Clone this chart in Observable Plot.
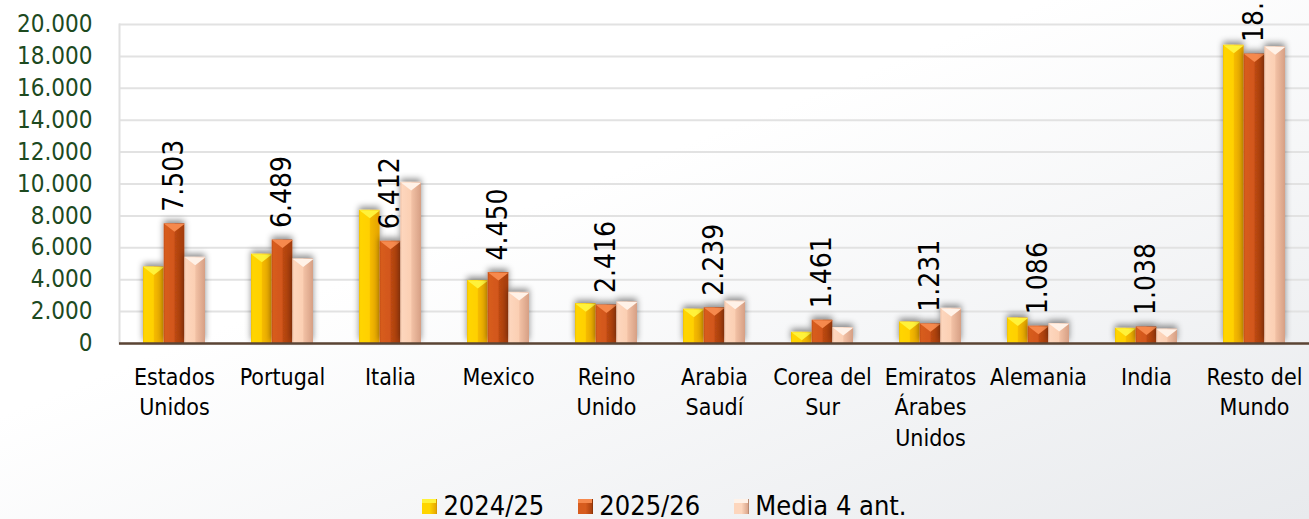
<!DOCTYPE html>
<html>
<head>
<meta charset="utf-8">
<script src="https://cdn.jsdelivr.net/npm/d3@7"></script>
<script src="https://cdn.jsdelivr.net/npm/@observablehq/plot@0.6"></script>
<style>
html, body { margin: 0; padding: 0; }
body {
  width: 1309px; height: 519px; overflow: hidden; position: relative;
  background: linear-gradient(to bottom right, #ffffff 40%, #e8eaed 100%);
  font-family: "DejaVu Sans Condensed", "DejaVu Sans", sans-serif;
}
#chart { position: absolute; left: 0; top: 0; }
#chart svg { background: none; }
#legend {
  position: absolute; left: 0; top: 494px; width: 1309px; height: 24px; box-sizing: border-box;
  padding-left: 20px;
  display: flex; justify-content: center; align-items: center; gap: 34px;
  font-size: 27px; line-height: 24px; color: #000;
}
.item { display: flex; align-items: center; gap: 6px; height: 24px; }
.sw { width: 15px; height: 15px; position: relative; }
</style>
</head>
<body>
<div id="chart"></div>
<div id="legend"></div>
<script>
// ---- data ----
const countries = ["Estados Unidos", "Portugal", "Italia", "Mexico", "Reino Unido", "Arabia Saudí",
  "Corea del Sur", "Emiratos Árabes Unidos", "Alemania", "India", "Resto del Mundo"];
const countryLabels = ["Estados\nUnidos", "Portugal", "Italia", "Mexico", "Reino\nUnido", "Arabia\nSaudí",
  "Corea del\nSur", "Emiratos\nÁrabes\nUnidos", "Alemania", "India", "Resto del\nMundo"];
const series = ["2024/25", "2025/26", "Media 4 ant."];
const values2425 = [4800, 5600, 8350, 3950, 2500, 2150, 700, 1350, 1600, 950, 18700];
const values2526 = [7503, 6489, 6412, 4450, 2416, 2239, 1461, 1231, 1086, 1038, 18150];
const valuesMedia = [5400, 5300, 10100, 3200, 2600, 2650, 1000, 2200, 1250, 900, 18600];
const yTicks = [0, 2000, 4000, 6000, 8000, 10000, 12000, 14000, 16000, 18000, 20000];
const labelledSeries = "2025/26";

// ---- styles ----
const colors = {
  "2024/25":      {stops: [[0, "#f2c000"], [0.08, "#ffd500"], [0.5, "#ffd000"], [0.56, "#f4b900"], [1, "#e3a200"]], top: "#fff23a", edge: "#d99a00"},
  "2025/26":      {stops: [[0, "#c24c15"], [0.08, "#d75c1e"], [0.5, "#d2571b"], [0.56, "#bb4812"], [1, "#a23c0c"]], top: "#f6894d", edge: "#8e3508"},
  "Media 4 ant.": {stops: [[0, "#efbfa2"], [0.08, "#fdd6bd"], [0.5, "#fbcfb3"], [0.56, "#f1c0a4"], [1, "#d69f84"]], top: "#fff2e8", edge: "#b98a72"}
};

const rows = [];
const seriesValues = [values2425, values2526, valuesMedia];
series.forEach((s, si) => countries.forEach((c, ci) => rows.push({country: c, series: s, value: seriesValues[si][ci]})));

const fmt = d3.formatLocale({decimal: ",", thousands: ".", grouping: [3], currency: ["", ""]}).format(",d");
const labelOf = new Map(countries.map((c, i) => [c, countryLabels[i]]));

// ---- layout ----
const W = 1309, H = 470, mL = 119, mR = 0, mT = 24, mB = 127;
const padInner = 0.426;
const step = (W - mL - mR) / countries.length;
const bw = step * (1 - padInner);
const barW = bw / 3;

const downTri = {
  draw(ctx) {
    const h = barW / 2;
    ctx.moveTo(-h, 0); ctx.lineTo(h, 0); ctx.lineTo(0, 8); ctx.closePath();
  }
};

const marks = [
  Plot.gridY(yTicks, {stroke: "#e2e2e2", strokeWidth: 2, strokeOpacity: 1}),
  Plot.frame({anchor: "left", stroke: "#e0e0e0", strokeWidth: 2}),
];
series.forEach((s, i) => {
  const data = rows.filter(d => d.series === s);
  marks.push(Plot.barY(data, {
    x: "country", y: "value", fill: `url(#grad${i})`,
    insetLeft: i * barW, insetRight: (2 - i) * barW
  }));
  marks.push(Plot.dot(data, {
    x: "country", y: "value", symbol: downTri, fill: colors[s].top, stroke: "none",
    dx: (i - 1) * barW
  }));
});
marks.push(
  Plot.ruleY([0], {stroke: "#5b4535", strokeWidth: 2.5}),
  Plot.axisY(yTicks, {tickSize: 0, tickPadding: 27, fontSize: 24, fill: "#1d4a1f", tickFormat: fmt, label: null}),
  Plot.axisX({tickSize: 0, tickPadding: 20, fontSize: 23, lineHeight: 1.32, fill: "#000",
    tickFormat: c => labelOf.get(c), label: null}),
  Plot.text(rows.filter(d => d.series === labelledSeries), {
    x: "country", y: "value", text: d => fmt(d.value), rotate: -90,
    textAnchor: "start", lineAnchor: "middle", dy: -12, fontSize: 28, fill: "#000"
  })
);

const svg = Plot.plot({
  width: W, height: H,
  marginLeft: mL, marginRight: mR, marginTop: mT, marginBottom: mB,
  style: {fontFamily: '"DejaVu Sans Condensed", "DejaVu Sans", sans-serif', background: "none"},
  x: {domain: countries, paddingInner: padInner, paddingOuter: padInner / 2, axis: null},
  y: {domain: [0, 20000], axis: null},
  marks
});

// gradient & shadow defs
const NS = "http://www.w3.org/2000/svg";
const defs = document.createElementNS(NS, "defs");
series.forEach((s, i) => {
  const g = document.createElementNS(NS, "linearGradient");
  g.setAttribute("id", `grad${i}`);
  g.setAttribute("x1", "0"); g.setAttribute("x2", "1"); g.setAttribute("y1", "0"); g.setAttribute("y2", "0");
  colors[s].stops.forEach(([o, c]) => {
    const st = document.createElementNS(NS, "stop");
    st.setAttribute("offset", o); st.setAttribute("stop-color", c);
    g.appendChild(st);
  });
  defs.appendChild(g);
});
const filt = document.createElementNS(NS, "filter");
filt.setAttribute("id", "bshadow");
filt.setAttribute("x", "-50%"); filt.setAttribute("y", "-10%"); filt.setAttribute("width", "200%"); filt.setAttribute("height", "120%");
const ds = document.createElementNS(NS, "feDropShadow");
ds.setAttribute("dx", "0"); ds.setAttribute("dy", "-3"); ds.setAttribute("stdDeviation", "3");
ds.setAttribute("flood-color", "#000"); ds.setAttribute("flood-opacity", "0.45");
filt.appendChild(ds);
defs.appendChild(filt);
svg.insertBefore(defs, svg.firstChild);
svg.querySelectorAll('g[aria-label="bar"]').forEach(g => g.setAttribute("filter", "url(#bshadow)"));

document.getElementById("chart").appendChild(svg);

// legend
const legend = document.getElementById("legend");
series.forEach(s => {
  const st = colors[s].stops;
  const item = document.createElement("div");
  item.className = "item";
  const sw = document.createElement("div");
  sw.className = "sw";
  sw.style.background = `linear-gradient(to bottom, ${colors[s].top} 0 25%, transparent 25%), linear-gradient(to right, ${st[1][1]} 0 50%, ${st[4][1]} 100%)`;
  sw.style.boxShadow = `inset -1px 0 0 ${colors[s].edge}`;
  const t = document.createElement("span");
  t.textContent = s;
  item.appendChild(sw); item.appendChild(t);
  legend.appendChild(item);
});
</script>
</body>
</html>
